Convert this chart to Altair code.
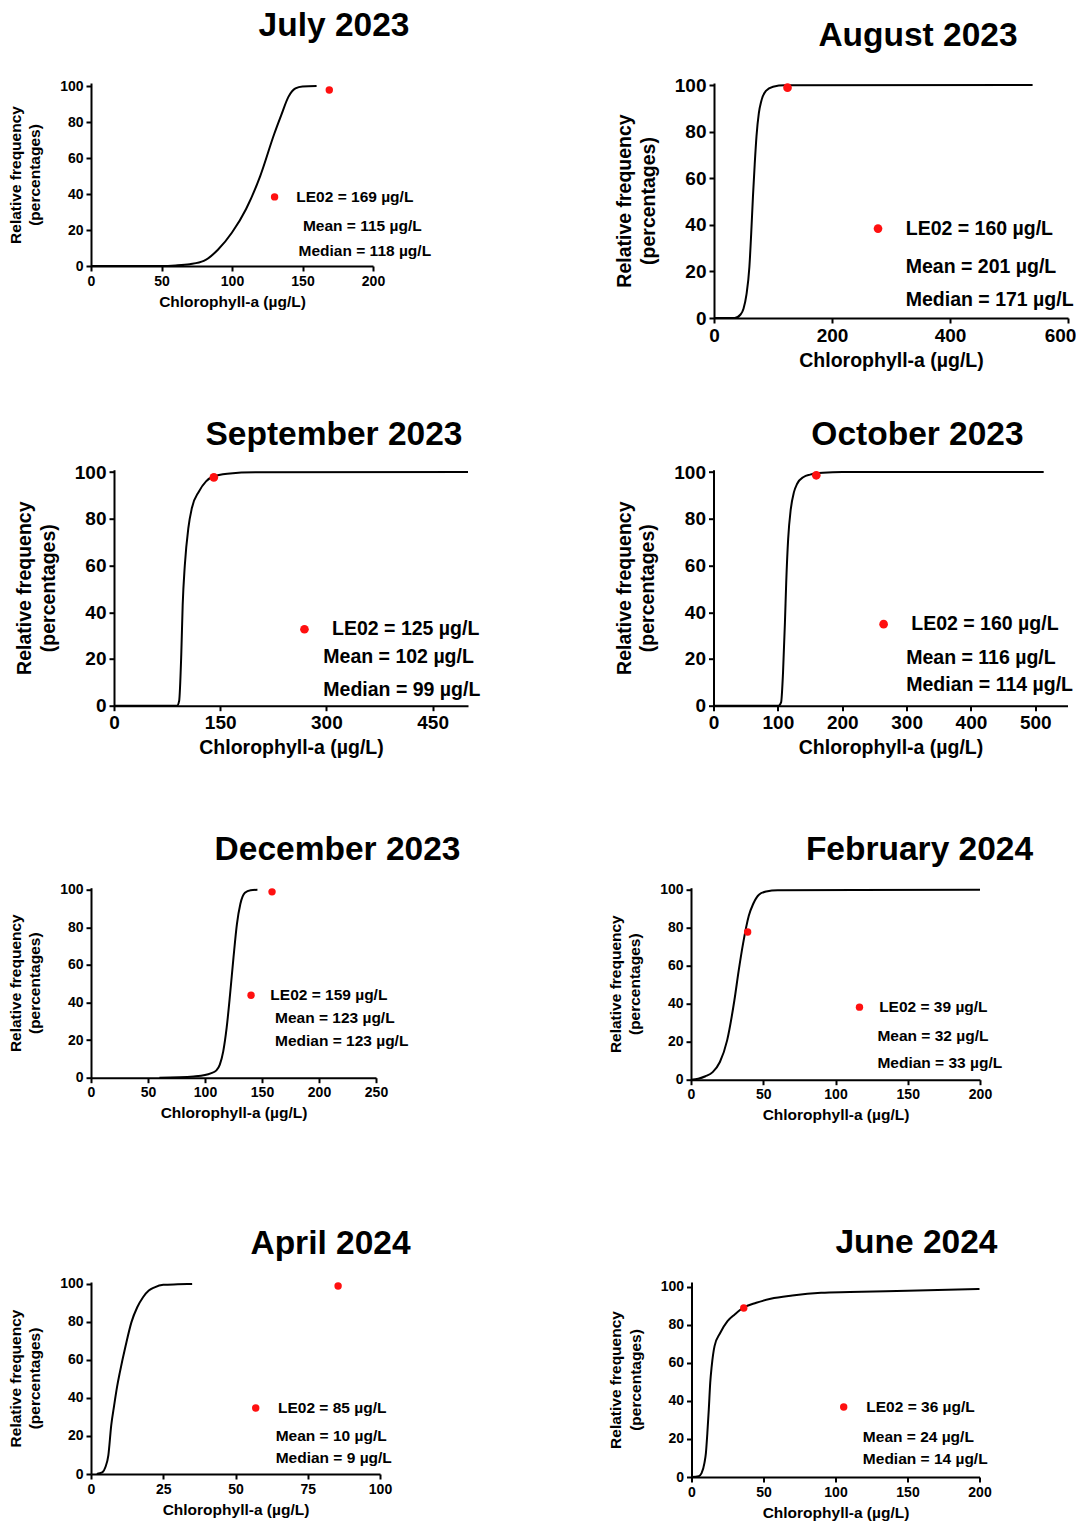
import altair as alt
import pandas as pd

FONT = "Liberation Sans"
UNIT = "µg/L"
Y_TITLE = ["Relative frequency", "(percentages)"]
X_TITLE = "Chlorophyll-a (µg/L)"

titles = ["July 2023", "August 2023", "September 2023", "October 2023",
          "December 2023", "February 2024", "April 2024", "June 2024"]

# --- cumulative curves ---
jul_x = [0, 50, 60, 70, 80, 90, 100, 110, 120, 130, 135, 140, 145, 150, 160]
jul_y = [0, 0, 0.3, 1, 2.8, 9, 18.6, 31.7, 50, 73.5, 84, 94, 98.7, 99.8, 100]
aug_x = [0, 35, 45, 50, 55, 60, 63, 66, 69, 72, 76, 80, 88, 100, 120, 540]
aug_y = [0, 0, 1.5, 4, 10, 22, 36, 52, 66, 78, 88, 93, 97.5, 99.3, 99.9, 100]
sep_x = [0, 89, 92, 95, 97, 100, 105, 110, 120, 130, 140, 160, 200, 500]
sep_y = [0, 0, 2, 21.7, 43, 60, 76, 84.6, 91.7, 96, 98.1, 99.3, 99.9, 100]
oct_x = [0, 101, 105, 108, 111, 113, 116, 120, 125, 130, 140, 150, 170, 200, 513]
oct_y = [0, 0, 1.4, 14, 35.7, 52.9, 71.4, 84, 91.4, 95, 97.9, 98.9, 99.7, 100, 100]
dec_x = [60, 90, 100, 105, 110, 113, 116, 119, 122, 125, 128, 131, 135, 140, 146]
dec_y = [0, 0.7, 1.4, 2.3, 3.9, 7, 14, 26.6, 44.4, 64, 81.7, 92.4, 98.4, 99.8, 100]
feb_x = [0, 5, 10, 15, 20, 25, 30, 33, 36, 40, 43, 47, 52, 60, 200]
feb_y = [0, 0.5, 1.8, 4, 9.3, 20.7, 41.7, 57.4, 71.5, 86.3, 92.5, 97.4, 99.1, 99.8, 100]
apr_x = [2, 3, 4, 5, 6, 7, 8, 9, 10, 12, 14, 16, 18, 20, 22, 25, 30, 35]
apr_y = [0, 0.4, 1, 3.7, 9.8, 25.6, 36, 45.7, 53.6, 67.6, 79.9, 87.7, 93, 96.5, 98.2, 99.5, 99.8, 100]
jun_x = [0, 5, 7, 9, 10, 11, 12, 13, 14, 16, 20, 25, 30, 36, 45, 55, 70, 90, 110, 150, 200]
jun_y = [0, 0.4, 2, 7.4, 12.6, 23, 35.4, 49.5, 58, 68.8, 75.8, 81.9, 85.4, 89, 91.6, 93.7, 95.4, 96.8, 97.2, 97.9, 98.8]

# --- LE02 points on the plots ---
le02_x = [169, 124.6, 141, 159.7, 158.8, 39.2, 85.5, 36.3]
le02_y = [97.8, 98.9, 97.7, 98.6, 98.9, 77.8, 98.9, 88.8]

# --- annotation values ---
le02_val = [169, 160, 125, 160, 159, 39, 85, 36]
mean_val = [115, 201, 102, 116, 123, 32, 10, 24]
median_val = [118, 171, 99, 114, 123, 33, 9, 14]

# annotation anchor positions (data units): legend dot, LE02, Mean, Median
dot_x = [130.2, 278, 269, 264.3, 140.4, 116.6, 57, 105.7]
dot_y = [38.4, 38.4, 32.7, 34.9, 43.9, 38.2, 34.7, 36.8]
le_tx = [145.6, 325, 308, 307.3, 157.3, 130.2, 64.7, 121.4]
mean_tx = [150.3, 325, 295.7, 299.5, 161.4, 129, 63.9, 119]
mean_ty = [22.3, 22, 21, 20.4, 31.6, 22.9, 19.8, 21]
med_tx = [147.2, 325, 295.7, 299.5, 161.4, 129, 63.9, 119]
med_ty = [8.4, 7.7, 6.7, 9, 19.5, 8.9, 8.6, 9.5]

# --- axes ---
x_max = [200, 600, 500, 550, 250, 200, 100, 200]
x_ticks = [[0, 50, 100, 150, 200], [0, 200, 400, 600], [0, 150, 300, 450],
           [0, 100, 200, 300, 400, 500], [0, 50, 100, 150, 200, 250],
           [0, 50, 100, 150, 200], [0, 25, 50, 75, 100], [0, 50, 100, 150, 200]]
y_ticks = [0, 20, 40, 60, 80, 100]
y_max = [101.7, 100.9, 101, 101, 101.1, 101.1, 101, 102.5]

curves = [(jul_x, jul_y), (aug_x, aug_y), (sep_x, sep_y), (oct_x, oct_y),
          (dec_x, dec_y), (feb_x, feb_y), (apr_x, apr_y), (jun_x, jun_y)]

# --- layout (pixels) ---
widths = [282, 354, 354, 354, 285, 289, 289, 288]
heights = [183, 235, 236, 236, 190, 192, 192, 195]
big = [False, True, True, True, False, False, False, False]
title_dx = [102, 27, 43, 27, 104, 84, 95, 81]
title_off = [35.6, 22.9, 10.6, 10.6, 15.1, 15.1, 15.8, 18.8]


def panel(i):
    cx, cy = curves[i]
    lab = 19 if big[i] else 14
    tit = 19.5 if big[i] else 15.5
    note = 19.5 if big[i] else 15.5
    dsize = 75 if big[i] else 55
    xs = alt.Scale(domain=[0, x_max[i]], nice=False, zero=True)
    ys = alt.Scale(domain=[0, y_max[i]], nice=False)
    common = dict(domainColor="black", domainWidth=2, tickColor="black", tickWidth=2,
                  tickSize=5, labelColor="black", labelFont=FONT, labelFontWeight="bold",
                  labelFontSize=lab, titleColor="black", titleFont=FONT,
                  titleFontWeight="bold", titleFontSize=tit, grid=False,
                  labelFlush=False, labelOverlap=False)
    x_extra = {}
    if x_max[i] == 600:
        # keep the last tick label inside the page
        x_extra["labelOffset"] = {"condition": {"test": "datum.value == 600", "value": -8},
                                  "value": 0}
    xax = alt.Axis(values=x_ticks[i], title=X_TITLE, labelPadding=3, titlePadding=6,
                   **x_extra, **common)
    yax = alt.Axis(values=y_ticks, title=Y_TITLE, labelPadding=3,
                   titlePadding=16 if big[i] else 17,
                   titleLineHeight=tit + 4, **common)

    cdf = pd.DataFrame({"x": cx, "y": cy})
    line = alt.Chart(cdf).mark_line(color="black", strokeWidth=2, interpolate="monotone").encode(
        x=alt.X("x:Q", scale=xs, axis=xax),
        y=alt.Y("y:Q", scale=ys, axis=yax),
    )
    pts = pd.DataFrame({"x": [le02_x[i], dot_x[i]], "y": [le02_y[i], dot_y[i]]})
    dots = alt.Chart(pts).mark_point(filled=True, color="#ff1010", opacity=1, size=dsize).encode(
        x=alt.X("x:Q", scale=xs, axis=xax), y=alt.Y("y:Q", scale=ys, axis=yax))
    notes = pd.DataFrame({
        "x": [le_tx[i], mean_tx[i], med_tx[i]],
        "y": [dot_y[i], mean_ty[i], med_ty[i]],
        "t": [f"LE02 = {le02_val[i]} {UNIT}",
              f"Mean = {mean_val[i]} {UNIT}",
              f"Median = {median_val[i]} {UNIT}"],
    })
    text = alt.Chart(notes).mark_text(align="left", baseline="middle", font=FONT,
                                      fontWeight="bold", fontSize=note, color="black").encode(
        x=alt.X("x:Q", scale=xs, axis=xax), y=alt.Y("y:Q", scale=ys, axis=yax), text="t:N")
    return alt.layer(line, dots, text).properties(
        width=widths[i], height=heights[i],
        title=alt.TitleParams(text=titles[i], font=FONT, fontSize=33.5, fontWeight="bold",
                              color="black", anchor="middle", frame="group",
                              dx=title_dx[i], offset=title_off[i]),
    )


p = [panel(i) for i in range(8)]

# an empty, invisible strip that pushes the September panel to the right
spacer = alt.Chart(pd.DataFrame({"v": [0]})).mark_point(opacity=0).encode(
    x=alt.value(0), y=alt.value(0)).properties(width=23, height=10)

row1 = alt.hconcat(p[0], p[1], spacing=341, bounds="flush")
row2 = alt.hconcat(spacer, alt.hconcat(p[2], p[3], spacing=245.5, bounds="flush"),
                   spacing=0, bounds="flush")
row3 = alt.hconcat(p[4], p[5], spacing=315, bounds="flush")
row4 = alt.hconcat(p[6], p[7], spacing=311.5, bounds="flush")

inner3 = alt.concat(row3, row4, columns=1, spacing=102.3, align="none")
inner2 = alt.concat(row2, inner3, columns=1, spacing=75, align="none")
chart = alt.concat(row1, inner2, columns=1, spacing=47.7, align="none").properties(
    padding={"left": 0, "top": 0, "right": 0, "bottom": 0}
).configure(font=FONT).configure_axis(labelOverlap=False, labelFlush=False).configure_view(
    stroke=None, strokeWidth=0)

chart.save("out.html", embed_options={"renderer": "svg", "actions": False})
